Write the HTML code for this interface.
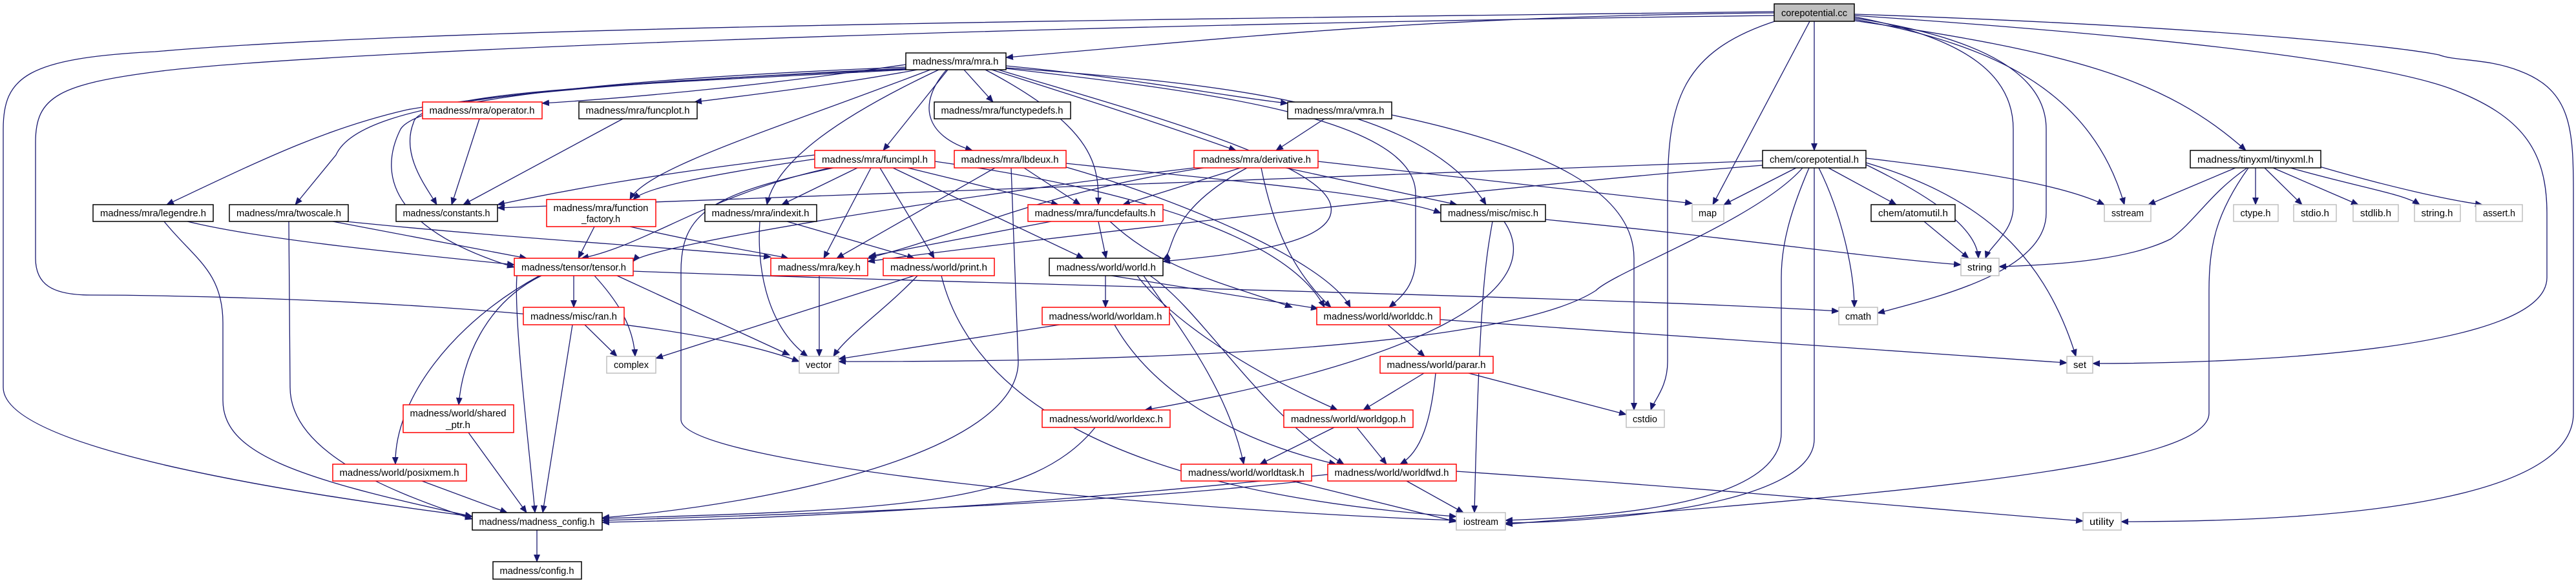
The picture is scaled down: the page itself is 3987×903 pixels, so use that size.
<!DOCTYPE html>
<html><head><meta charset="utf-8"><style>
html,body{margin:0;padding:0;background:#fff;}
svg{display:block;}
text{font-family:"Liberation Sans",sans-serif;font-size:15px;fill:#000;text-anchor:middle;}
.e{fill:none;stroke:#191970;stroke-width:1.3;marker-end:url(#a);}
.nb{fill:#fff;stroke:#000;stroke-width:1.5;}
.nr{fill:#fff;stroke:#ff0000;stroke-width:1.5;}
.ng{fill:#fff;stroke:#bfbfbf;stroke-width:1.5;}
</style></head><body>
<svg width="3987" height="903" viewBox="0 0 3987 903" xmlns="http://www.w3.org/2000/svg">
<defs><marker id="a" markerUnits="userSpaceOnUse" markerWidth="12" markerHeight="10" refX="11" refY="5" orient="auto"><path d="M0,0 L12,5 L0,10 z" fill="#191970"/></marker></defs>
<g>
<path class="e" d="M2746,20 C2200,25 1900,60 1557,89"/>
<path class="e" d="M2746,18 C1800,30 700,40 240,80 C40,90 5,120 5,200 L5,600 C5,700 500,770 731,800"/>
<path class="e" d="M2746,24 C1500,40 500,80 250,110 C90,130 55,150 55,220 L55,400 C55,440 80,457 140,457 C300,457 1000,470 1237,560"/>
<path class="e" d="M2750,32 C2600,80 2581,160 2581,300 L2581,560 C2581,600 2560,620 2555,635"/>
<path class="e" d="M2801,33 L2651,317"/>
<path class="e" d="M2808,33 L2808,233"/>
<path class="e" d="M2870,26 C3050,60 3116,120 3116,200 L3116,320 C3116,360 3080,380 3073,400"/>
<path class="e" d="M2870,28 C3080,60 3167,120 3167,200 L3167,330 C3167,420 3000,460 2906,485"/>
<path class="e" d="M2870,30 C3100,70 3240,150 3288,317"/>
<path class="e" d="M2870,32 C3200,80 3350,120 3476,233"/>
<path class="e" d="M2870,24 C3400,60 3700,100 3800,140 C3900,180 3942,230 3942,330 L3942,430 C3942,540 3500,563 3239,563"/>
<path class="e" d="M2870,22 C3400,40 3700,70 3775,85 C3800,95 3850,90 3900,110 C3980,140 3983,200 3983,300 L3983,640 C3983,760 3700,808 3283,808"/>
<path class="e" d="M2780,260 L2668,317"/>
<path class="e" d="M2830,260 L2935,317"/>
<path class="e" d="M2728,249 L770,322"/>
<path class="e" d="M2728,256 C2300,290 1600,370 1343,405"/>
<path class="e" d="M2790,260 C2720,340 2500,420 2470,450 C2300,560 1500,560 1298,560"/>
<path class="e" d="M2800,260 C2770,330 2757,380 2757,430 L2757,670 C2757,780 2500,800 2330,806"/>
<path class="e" d="M2808,260 L2808,680 C2808,780 2500,808 2330,810"/>
<path class="e" d="M2815,260 C2850,330 2870,420 2870,476"/>
<path class="e" d="M2888,252 C3050,300 3160,380 3213,552"/>
<path class="e" d="M2888,245 C3100,270 3200,290 3257,317"/>
<path class="e" d="M2888,255 C2980,300 3060,350 3062,400"/>
<path class="e" d="M2978,343 L3047,400"/>
<path class="e" d="M2392,340 C2700,370 2900,400 3035,410"/>
<path class="e" d="M2310,343 C2300,400 2290,450 2282,794"/>
<path class="e" d="M2328,343 C2400,450 2200,560 1772,635"/>
<path class="e" d="M3460,260 L3325,317"/>
<path class="e" d="M3491,260 L3491,317"/>
<path class="e" d="M3505,260 L3563,317"/>
<path class="e" d="M3518,260 L3650,317"/>
<path class="e" d="M3545,260 C3650,290 3720,300 3745,317"/>
<path class="e" d="M3590,258 C3700,290 3790,310 3842,317"/>
<path class="e" d="M3478,260 C3420,300 3400,340 3360,370 C3300,400 3200,410 3094,413"/>
<path class="e" d="M3480,260 C3430,330 3419,380 3419,450 L3419,640 C3419,720 3000,760 2330,812"/>
<path class="e" d="M1402,100 C1200,130 1000,150 839,160"/>
<path class="e" d="M1420,108 C1300,130 1180,145 1075,158"/>
<path class="e" d="M1492,108 L1537,158"/>
<path class="e" d="M1557,102 C1750,120 1900,150 1993,160"/>
<path class="e" d="M1467,108 L1367,233"/>
<path class="e" d="M1465,108 C1420,160 1430,210 1505,233"/>
<path class="e" d="M1535,108 C1700,160 1820,200 1913,233"/>
<path class="e" d="M1402,106 C1100,120 800,140 630,170 C500,200 400,250 258,317"/>
<path class="e" d="M1402,107 C900,130 560,150 520,240 L457,317"/>
<path class="e" d="M1402,108 C1000,130 650,140 640,190 C620,240 660,290 676,317"/>
<path class="e" d="M1440,108 C1200,200 1000,260 975,309"/>
<path class="e" d="M1453,108 C1300,180 1200,250 1187,317"/>
<path class="e" d="M1525,108 C1700,200 1700,260 1700,317"/>
<path class="e" d="M1557,105 C1900,130 2200,160 2300,317"/>
<path class="e" d="M1545,108 C1750,170 2050,250 2060,320 C2070,380 1900,395 1800,405"/>
<path class="e" d="M1557,106 C1850,140 2191,180 2191,300 L2191,400 C2191,440 2170,460 2150,476"/>
<path class="e" d="M1402,104 C1000,120 650,150 620,200 C580,280 620,360 796,414"/>
<path class="e" d="M2154,178 C2400,230 2529,300 2529,400 L2529,635"/>
<path class="e" d="M742,184 L699,317"/>
<path class="e" d="M964,184 L717,317"/>
<path class="e" d="M2050,184 L1975,233"/>
<path class="e" d="M1270,245 C1100,270 1000,290 980,309"/>
<path class="e" d="M1261,240 C1000,270 850,300 770,317"/>
<path class="e" d="M1285,260 C1100,300 1000,380 900,400"/>
<path class="e" d="M1327,260 L1210,317"/>
<path class="e" d="M1348,260 L1275,400"/>
<path class="e" d="M1362,260 L1446,400"/>
<path class="e" d="M1405,260 L1638,317"/>
<path class="e" d="M1382,260 L1677,400"/>
<path class="e" d="M1447,250 C1800,300 2000,380 2050,476"/>
<path class="e" d="M1290,260 C1100,300 1054,330 1054,420 L1054,650 C1054,720 1800,790 2254,806"/>
<path class="e" d="M1585,260 L1672,317"/>
<path class="e" d="M1540,260 L1295,400"/>
<path class="e" d="M1565,260 L1576,560 C1576,700 1200,780 932,802"/>
<path class="e" d="M1636,255 C1800,300 2050,400 2090,476"/>
<path class="e" d="M1650,253 C1900,280 2150,300 2230,330"/>
<path class="e" d="M1920,260 L1738,317"/>
<path class="e" d="M1863,260 C1600,300 1500,360 1343,400"/>
<path class="e" d="M1930,260 C1800,330 1820,390 1800,402"/>
<path class="e" d="M1866,258 C1500,300 1000,380 980,405"/>
<path class="e" d="M1990,260 L2255,317"/>
<path class="e" d="M2040,250 C2300,280 2500,300 2619,315"/>
<path class="e" d="M1952,260 C1970,350 2000,420 2060,476"/>
<path class="e" d="M1176,343 C1172,400 1180,500 1250,552"/>
<path class="e" d="M1218,343 L1415,400"/>
<path class="e" d="M1700,343 L1712,400"/>
<path class="e" d="M1627,343 L1345,397"/>
<path class="e" d="M1718,343 C1800,420 1900,440 2000,476"/>
<path class="e" d="M920,351 L895,400"/>
<path class="e" d="M975,351 C1100,380 1200,395 1220,400"/>
<path class="e" d="M290,343 C400,370 600,390 796,410"/>
<path class="e" d="M254,343 C300,400 345,420 345,500 L345,620 C345,700 450,740 731,800"/>
<path class="e" d="M515,343 L815,400"/>
<path class="e" d="M535,343 C800,370 1000,380 1193,398"/>
<path class="e" d="M447,343 L449,600 C449,700 600,760 731,804"/>
<path class="e" d="M888,427 L888,476"/>
<path class="e" d="M920,427 C950,460 980,500 983,552"/>
<path class="e" d="M955,427 L1222,550"/>
<path class="e" d="M838,427 C750,470 715,560 710,627"/>
<path class="e" d="M835,427 C700,500 610,620 612,719"/>
<path class="e" d="M800,427 C795,500 820,700 828,794"/>
<path class="e" d="M980,420 C1500,440 2500,460 2846,482"/>
<path class="e" d="M905,503 L955,552"/>
<path class="e" d="M886,503 L840,794"/>
<path class="e" d="M1268,427 L1268,552"/>
<path class="e" d="M1420,427 C1370,480 1310,520 1290,552"/>
<path class="e" d="M1415,427 L1015,555"/>
<path class="e" d="M1457,427 C1500,600 1700,760 2254,800"/>
<path class="e" d="M1711,427 L1711,476"/>
<path class="e" d="M1720,427 L2040,478"/>
<path class="e" d="M1760,427 C1800,480 1900,560 2070,635"/>
<path class="e" d="M1770,427 C1820,500 1900,600 1925,719"/>
<path class="e" d="M1780,427 C1860,480 1950,640 2080,719"/>
<path class="e" d="M1640,503 L1298,556"/>
<path class="e" d="M1725,503 C1780,600 1900,680 2068,719"/>
<path class="e" d="M2148,503 L2205,552"/>
<path class="e" d="M2229,495 L3199,562"/>
<path class="e" d="M2204,578 L2110,635"/>
<path class="e" d="M2222,578 C2215,650 2200,700 2167,719"/>
<path class="e" d="M2273,578 L2517,642"/>
<path class="e" d="M2065,662 L1950,719"/>
<path class="e" d="M2100,662 L2146,719"/>
<path class="e" d="M1695,662 C1600,780 1400,790 932,803"/>
<path class="e" d="M2020,745 C1700,780 1300,795 932,806"/>
<path class="e" d="M2000,745 L2254,808"/>
<path class="e" d="M2177,745 L2265,794"/>
<path class="e" d="M2254,730 C2700,760 3000,790 3224,807"/>
<path class="e" d="M2055,735 C1800,760 1400,800 932,809"/>
<path class="e" d="M725,670 L815,794"/>
<path class="e" d="M653,745 L785,794"/>
<path class="e" d="M831,821 L831,870"/>
</g>
<g>
<rect x="2746" y="6" width="124" height="27" fill="#bfbfbf" stroke="#000" stroke-width="1.5"/><text x="2808" y="25" textLength="102" lengthAdjust="spacingAndGlyphs">corepotential.cc</text>
<rect class="nb" x="1402" y="82" width="155" height="26"/><text x="1479" y="100" textLength="133" lengthAdjust="spacingAndGlyphs">madness/mra/mra.h</text>
<rect class="nr" x="654" y="158" width="185" height="26"/><text x="746" y="176" textLength="163" lengthAdjust="spacingAndGlyphs">madness/mra/operator.h</text>
<rect class="nb" x="896" y="158" width="183" height="26"/><text x="987" y="176" textLength="161" lengthAdjust="spacingAndGlyphs">madness/mra/funcplot.h</text>
<rect class="nb" x="1446" y="158" width="211" height="26"/><text x="1551" y="176" textLength="189" lengthAdjust="spacingAndGlyphs">madness/mra/functypedefs.h</text>
<rect class="nb" x="1993" y="158" width="161" height="26"/><text x="2073" y="176" textLength="139" lengthAdjust="spacingAndGlyphs">madness/mra/vmra.h</text>
<rect class="nr" x="1261" y="233" width="186" height="27"/><text x="1354" y="252" textLength="164" lengthAdjust="spacingAndGlyphs">madness/mra/funcimpl.h</text>
<rect class="nr" x="1477" y="233" width="173" height="27"/><text x="1563" y="252" textLength="151" lengthAdjust="spacingAndGlyphs">madness/mra/lbdeux.h</text>
<rect class="nr" x="1848" y="233" width="192" height="27"/><text x="1944" y="252" textLength="170" lengthAdjust="spacingAndGlyphs">madness/mra/derivative.h</text>
<rect class="nb" x="2728" y="233" width="160" height="27"/><text x="2808" y="252" textLength="138" lengthAdjust="spacingAndGlyphs">chem/corepotential.h</text>
<rect class="nb" x="3390" y="233" width="202" height="27"/><text x="3491" y="252" textLength="180" lengthAdjust="spacingAndGlyphs">madness/tinyxml/tinyxml.h</text>
<rect class="nb" x="144" y="317" width="186" height="26"/><text x="237" y="335" textLength="164" lengthAdjust="spacingAndGlyphs">madness/mra/legendre.h</text>
<rect class="nb" x="355" y="317" width="184" height="26"/><text x="447" y="335" textLength="162" lengthAdjust="spacingAndGlyphs">madness/mra/twoscale.h</text>
<rect class="nb" x="613" y="317" width="157" height="26"/><text x="691" y="335" textLength="135" lengthAdjust="spacingAndGlyphs">madness/constants.h</text>
<rect class="nr" x="846" y="309" width="169" height="42"/><text x="930" y="327" textLength="147" lengthAdjust="spacingAndGlyphs">madness/mra/function</text><text x="930" y="344" textLength="60" lengthAdjust="spacingAndGlyphs">_factory.h</text>
<rect class="nb" x="1091" y="317" width="173" height="26"/><text x="1177" y="335" textLength="151" lengthAdjust="spacingAndGlyphs">madness/mra/indexit.h</text>
<rect class="nr" x="1591" y="317" width="209" height="26"/><text x="1695" y="335" textLength="187" lengthAdjust="spacingAndGlyphs">madness/mra/funcdefaults.h</text>
<rect class="nb" x="2230" y="317" width="162" height="26"/><text x="2311" y="335" textLength="140" lengthAdjust="spacingAndGlyphs">madness/misc/misc.h</text>
<rect class="ng" x="2619" y="317" width="49" height="26"/><text x="2643" y="335" textLength="28" lengthAdjust="spacingAndGlyphs">map</text>
<rect class="nb" x="2896" y="317" width="130" height="26"/><text x="2961" y="335" textLength="108" lengthAdjust="spacingAndGlyphs">chem/atomutil.h</text>
<rect class="ng" x="3257" y="317" width="72" height="26"/><text x="3293" y="335" textLength="50" lengthAdjust="spacingAndGlyphs">sstream</text>
<rect class="ng" x="3457" y="317" width="69" height="26"/><text x="3491" y="335" textLength="47" lengthAdjust="spacingAndGlyphs">ctype.h</text>
<rect class="ng" x="3550" y="317" width="66" height="26"/><text x="3583" y="335" textLength="44" lengthAdjust="spacingAndGlyphs">stdio.h</text>
<rect class="ng" x="3642" y="317" width="70" height="26"/><text x="3677" y="335" textLength="48" lengthAdjust="spacingAndGlyphs">stdlib.h</text>
<rect class="ng" x="3737" y="317" width="71" height="26"/><text x="3772" y="335" textLength="49" lengthAdjust="spacingAndGlyphs">string.h</text>
<rect class="ng" x="3832" y="317" width="72" height="26"/><text x="3868" y="335" textLength="50" lengthAdjust="spacingAndGlyphs">assert.h</text>
<rect class="nr" x="796" y="400" width="184" height="27"/><text x="888" y="419" textLength="162" lengthAdjust="spacingAndGlyphs">madness/tensor/tensor.h</text>
<rect class="nr" x="1193" y="400" width="150" height="27"/><text x="1268" y="419" textLength="128" lengthAdjust="spacingAndGlyphs">madness/mra/key.h</text>
<rect class="nr" x="1367" y="400" width="172" height="27"/><text x="1453" y="419" textLength="150" lengthAdjust="spacingAndGlyphs">madness/world/print.h</text>
<rect class="nb" x="1624" y="400" width="176" height="27"/><text x="1712" y="419" textLength="154" lengthAdjust="spacingAndGlyphs">madness/world/world.h</text>
<rect class="ng" x="3035" y="400" width="59" height="27"/><text x="3064" y="419" textLength="38" lengthAdjust="spacingAndGlyphs">string</text>
<rect class="nr" x="810" y="476" width="156" height="27"/><text x="888" y="495" textLength="134" lengthAdjust="spacingAndGlyphs">madness/misc/ran.h</text>
<rect class="nr" x="1613" y="476" width="197" height="27"/><text x="1711" y="495" textLength="175" lengthAdjust="spacingAndGlyphs">madness/world/worldam.h</text>
<rect class="nr" x="2038" y="476" width="191" height="27"/><text x="2133" y="495" textLength="169" lengthAdjust="spacingAndGlyphs">madness/world/worlddc.h</text>
<rect class="ng" x="2846" y="476" width="60" height="27"/><text x="2876" y="495" textLength="40" lengthAdjust="spacingAndGlyphs">cmath</text>
<rect class="ng" x="939" y="552" width="76" height="26"/><text x="977" y="570" textLength="54" lengthAdjust="spacingAndGlyphs">complex</text>
<rect class="ng" x="1237" y="552" width="61" height="26"/><text x="1267" y="570" textLength="40" lengthAdjust="spacingAndGlyphs">vector</text>
<rect class="nr" x="2136" y="552" width="175" height="26"/><text x="2223" y="570" textLength="153" lengthAdjust="spacingAndGlyphs">madness/world/parar.h</text>
<rect class="ng" x="3199" y="552" width="40" height="26"/><text x="3219" y="570" textLength="20" lengthAdjust="spacingAndGlyphs">set</text>
<rect class="nr" x="624" y="627" width="171" height="43"/><text x="709" y="645" textLength="149" lengthAdjust="spacingAndGlyphs">madness/world/shared</text><text x="709" y="663" textLength="38" lengthAdjust="spacingAndGlyphs">_ptr.h</text>
<rect class="nr" x="1613" y="635" width="198" height="27"/><text x="1712" y="654" textLength="176" lengthAdjust="spacingAndGlyphs">madness/world/worldexc.h</text>
<rect class="nr" x="1987" y="635" width="200" height="27"/><text x="2087" y="654" textLength="178" lengthAdjust="spacingAndGlyphs">madness/world/worldgop.h</text>
<rect class="ng" x="2517" y="635" width="59" height="27"/><text x="2546" y="654" textLength="38" lengthAdjust="spacingAndGlyphs">cstdio</text>
<rect class="nr" x="515" y="719" width="207" height="26"/><text x="618" y="737" textLength="185" lengthAdjust="spacingAndGlyphs">madness/world/posixmem.h</text>
<rect class="nr" x="1828" y="719" width="202" height="26"/><text x="1929" y="737" textLength="180" lengthAdjust="spacingAndGlyphs">madness/world/worldtask.h</text>
<rect class="nr" x="2055" y="719" width="199" height="26"/><text x="2154" y="737" textLength="177" lengthAdjust="spacingAndGlyphs">madness/world/worldfwd.h</text>
<rect class="nb" x="731" y="794" width="201" height="27"/><text x="831" y="813" textLength="179" lengthAdjust="spacingAndGlyphs">madness/madness_config.h</text>
<rect class="ng" x="2254" y="794" width="76" height="27"/><text x="2292" y="813" textLength="54" lengthAdjust="spacingAndGlyphs">iostream</text>
<rect class="ng" x="3224" y="794" width="59" height="27"/><text x="3253" y="813" textLength="38" lengthAdjust="spacingAndGlyphs">utility</text>
<rect class="nb" x="763" y="870" width="137" height="27"/><text x="831" y="889" textLength="115" lengthAdjust="spacingAndGlyphs">madness/config.h</text>
</g>
</svg>
</body></html>
